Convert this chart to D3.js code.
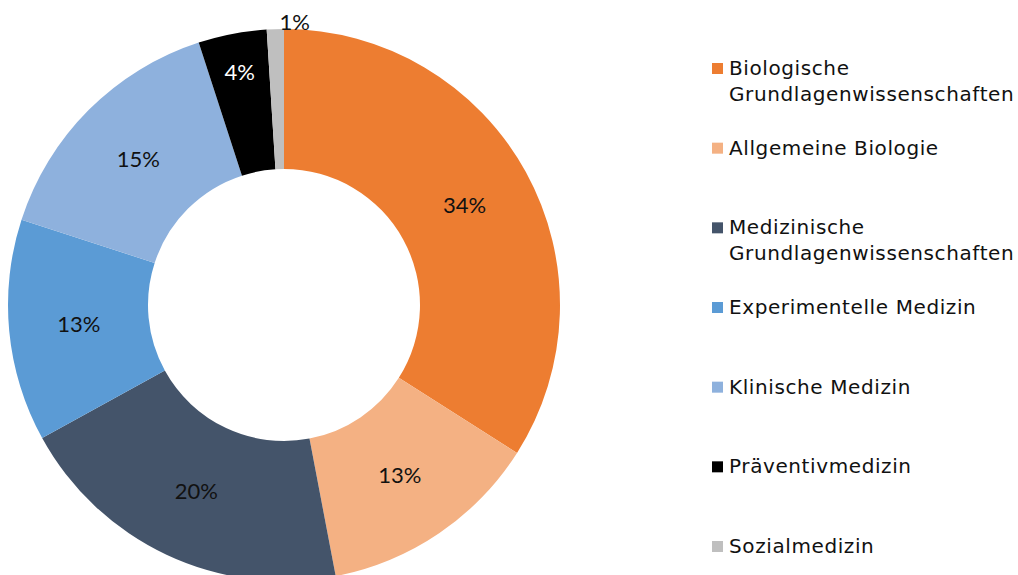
<!DOCTYPE html>
<html>
<head>
    <meta charset="utf-8" />
    <title>Verteilung</title>
    <script src="https://d3js.org/d3.v7.min.js"></script>
    <style>
        body { margin: 0; background: #fff; }
        .slice-label { font-family: Lato, "Open Sans", sans-serif; font-size: 22px; }
        .legend text { font-family: "DejaVu Sans", Verdana, sans-serif; font-size: 20px; letter-spacing: 0.6px; fill: #111; }
    </style>
</head>
<body>
<svg width="1018" height="575"></svg>
<script>
// data
const categories = [
    "Biologische Grundlagenwissenschaften",
    "Allgemeine Biologie",
    "Medizinische Grundlagenwissenschaften",
    "Experimentelle Medizin",
    "Klinische Medizin",
    "Präventivmedizin",
    "Sozialmedizin"
];
const shares = [34, 13, 20, 13, 15, 4, 1];
const legendLines = [
    ["Biologische", "Grundlagenwissenschaften"],
    ["Allgemeine Biologie"],
    ["Medizinische", "Grundlagenwissenschaften"],
    ["Experimentelle Medizin"],
    ["Klinische Medizin"],
    ["Präventivmedizin"],
    ["Sozialmedizin"]
];
const colors = ["#ED7D31", "#F4B183", "#44546A", "#5B9BD5", "#8EB1DD", "#000000", "#BFBFBF"];

const svg = d3.select('svg');
const cx = 284, cy = 305;
const outerR = 276, innerR = 136;

const color = d3.scaleOrdinal().domain(categories).range(colors);

const data = categories.map((c, i) => ({ key: c, value: shares[i] }));

const pie = d3.pie().value(d => d.value).sort(null);
const arc = d3.arc().innerRadius(innerR).outerRadius(outerR);
// narrow slices get their label pushed further out, like excel does
const narrowR = innerR + 0.72 * (outerR - innerR);
const narrowArc = d3.arc().innerRadius(narrowR).outerRadius(narrowR);
const outsideArc = d3.arc().innerRadius(outerR + 4).outerRadius(outerR + 4);

const g = svg.append('g').attr('transform', "translate(" + cx + "," + cy + ")");
const arcs = pie(data);

g.selectAll('path')
    .data(arcs)
    .enter()
    .append('path')
    .attr('d', arc)
    .attr('fill', d => color(d.data.key));

// labels: inside the ring, tiny slices go outside
g.selectAll('text.slice-label')
    .data(arcs)
    .enter()
    .append('text')
    .attr('class', 'slice-label')
    .each(function(d) {
        const small = d.data.value < 2;
        const narrow = d.data.value < 6;
        const p = small ? outsideArc.centroid(d) : (narrow ? narrowArc.centroid(d) : arc.centroid(d));
        d3.select(this)
            .attr('x', p[0])
            .attr('y', p[1])
            .attr('text-anchor', small ? 'start' : 'middle')
            .attr('dx', small ? '0.2em' : 0)
            .attr('dy', small ? '0.2em' : '0.35em')
            .attr('fill', d.data.key === "Präventivmedizin" ? '#fff' : '#111');
    })
    .text(d => d3.format('.0f')(d.data.value) + '%');

// legend
const ly = d3.scalePoint().domain(categories).range([75, 553]);
const legend = svg.append('g').attr('class', 'legend');

const item = legend.selectAll('g')
    .data(categories)
    .enter()
    .append('g')
    .attr('transform', d => "translate(712," + ly(d) + ")");

item.append('rect')
    .attr('x', 0)
    .attr('y', -12)
    .attr('width', 11)
    .attr('height', 11)
    .attr('fill', d => color(d));

item.append('text')
    .attr('x', 17)
    .attr('y', 0)
    .selectAll('tspan')
    .data((d, i) => legendLines[i])
    .enter()
    .append('tspan')
    .attr('x', 17)
    .attr('dy', (d, i) => i === 0 ? 0 : 26)
    .text(d => d);
</script>
</body>
</html>
